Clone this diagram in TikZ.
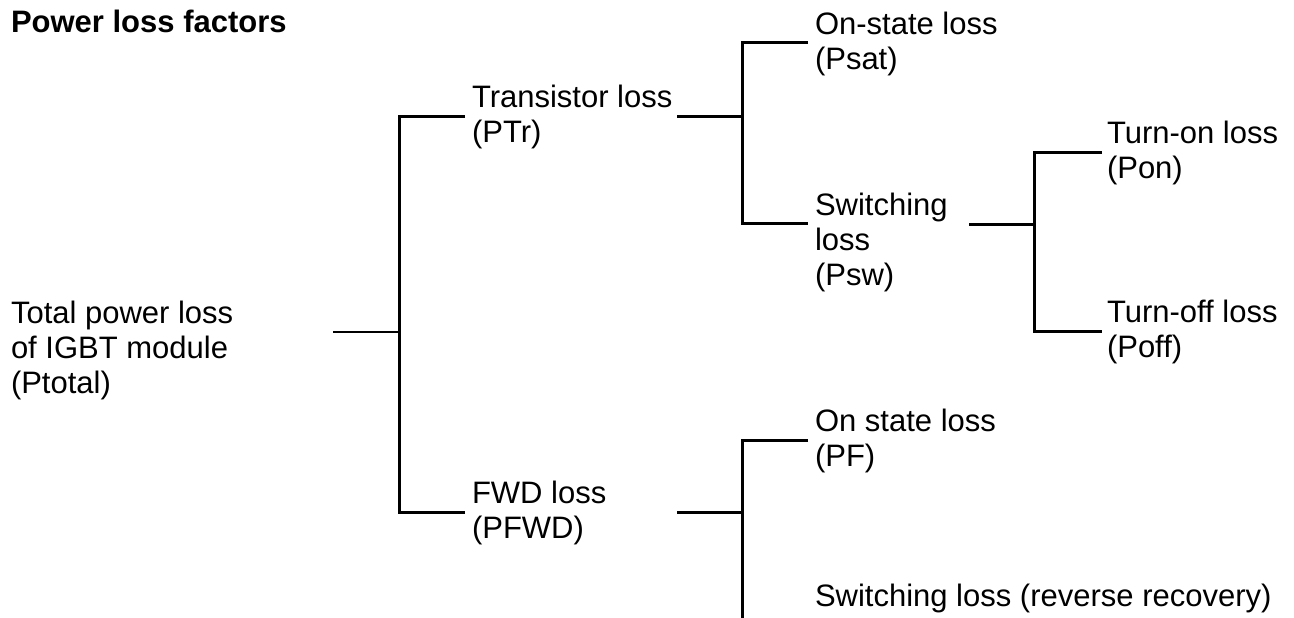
\documentclass[tikz,border=0pt]{standalone}
\usepackage{fontspec}
\setmainfont{Liberation Sans}
\newcommand{\twoline}[2]{\vtop{\baselineskip=35pt\hbox{#1}\hbox{#2}}}
\newcommand{\threeline}[3]{\vtop{\baselineskip=35pt\hbox{#1}\hbox{#2}\hbox{#3}}}
\tikzset{
  lbl/.style={anchor=base west, inner sep=0pt, outer sep=0pt, font=\fontsize{31}{35}\selectfont},
  ttl/.style={lbl, font=\fontsize{31}{35}\selectfont\bfseries},
  ln/.style={line width=3pt, line join=miter, line cap=butt},
  lnthin/.style={line width=2.3pt}
}
\begin{document}
\begin{tikzpicture}[x=1pt,y=-1pt]
\useasboundingbox (0,0) rectangle (1294,618);
\clip (0,0) rectangle (1294,618);
% texts
\node[ttl] (title) at (11,33) {Power loss factors};
\node[lbl] (total) at (11,323) {\threeline{Total power loss}{of IGBT module}{(Ptotal)}};
\node[lbl] (tr) at (472,107) {\twoline{Transistor loss}{(PTr)}};
\node[lbl] (fwd) at (472,503) {\twoline{FWD loss}{(PFWD)}};
\node[lbl] (psat) at (815,35) {\twoline{On-state loss}{(Psat)}};
\node[lbl] (psw) at (815,215) {\threeline{Switching}{loss}{(Psw)}};
\node[lbl] (pon) at (1107,143) {\twoline{Turn-on loss}{(Pon)}};
\node[lbl] (poff) at (1107,322) {\twoline{Turn-off loss}{(Poff)}};
\node[lbl] (pf) at (815,431) {\twoline{On state loss}{(PF)}};
\node[lbl] (prr) at (815,606) {Switching loss (reverse recovery)};
% connector points
\coordinate (totR) at (333,332);
\coordinate (v1) at (399,332);
\coordinate (trL) at (465,116);
\coordinate (fwdL) at (465,512);
\coordinate (trR) at (677,116);
\coordinate (v2) at (742,116);
\coordinate (psatL) at (808,43);
\coordinate (pswL) at (808,223);
\coordinate (pswR) at (969,224);
\coordinate (v3) at (1034,224);
\coordinate (ponL) at (1102,152);
\coordinate (poffL) at (1102,331);
\coordinate (fwdR) at (677,512);
\coordinate (v4) at (742,512);
\coordinate (pfL) at (808,440);
\coordinate (prrL) at (742,625);
% connectors
\draw[lnthin] (totR) -- (v1);
\draw[ln] (trL) -- (trL -| v1) -- (fwdL -| v1) -- (fwdL);
\draw[ln] (trR) -- (v2);
\draw[ln] (psatL) -- (psatL -| v2) -- (pswL -| v2) -- (pswL);
\draw[ln] (pswR) -- (v3);
\draw[ln] (ponL) -- (ponL -| v3) -- (poffL -| v3) -- (poffL);
\draw[ln] (fwdR) -- (v4);
\draw[ln] (pfL) -- (pfL -| v4) -- (prrL);
\end{tikzpicture}
\end{document}
